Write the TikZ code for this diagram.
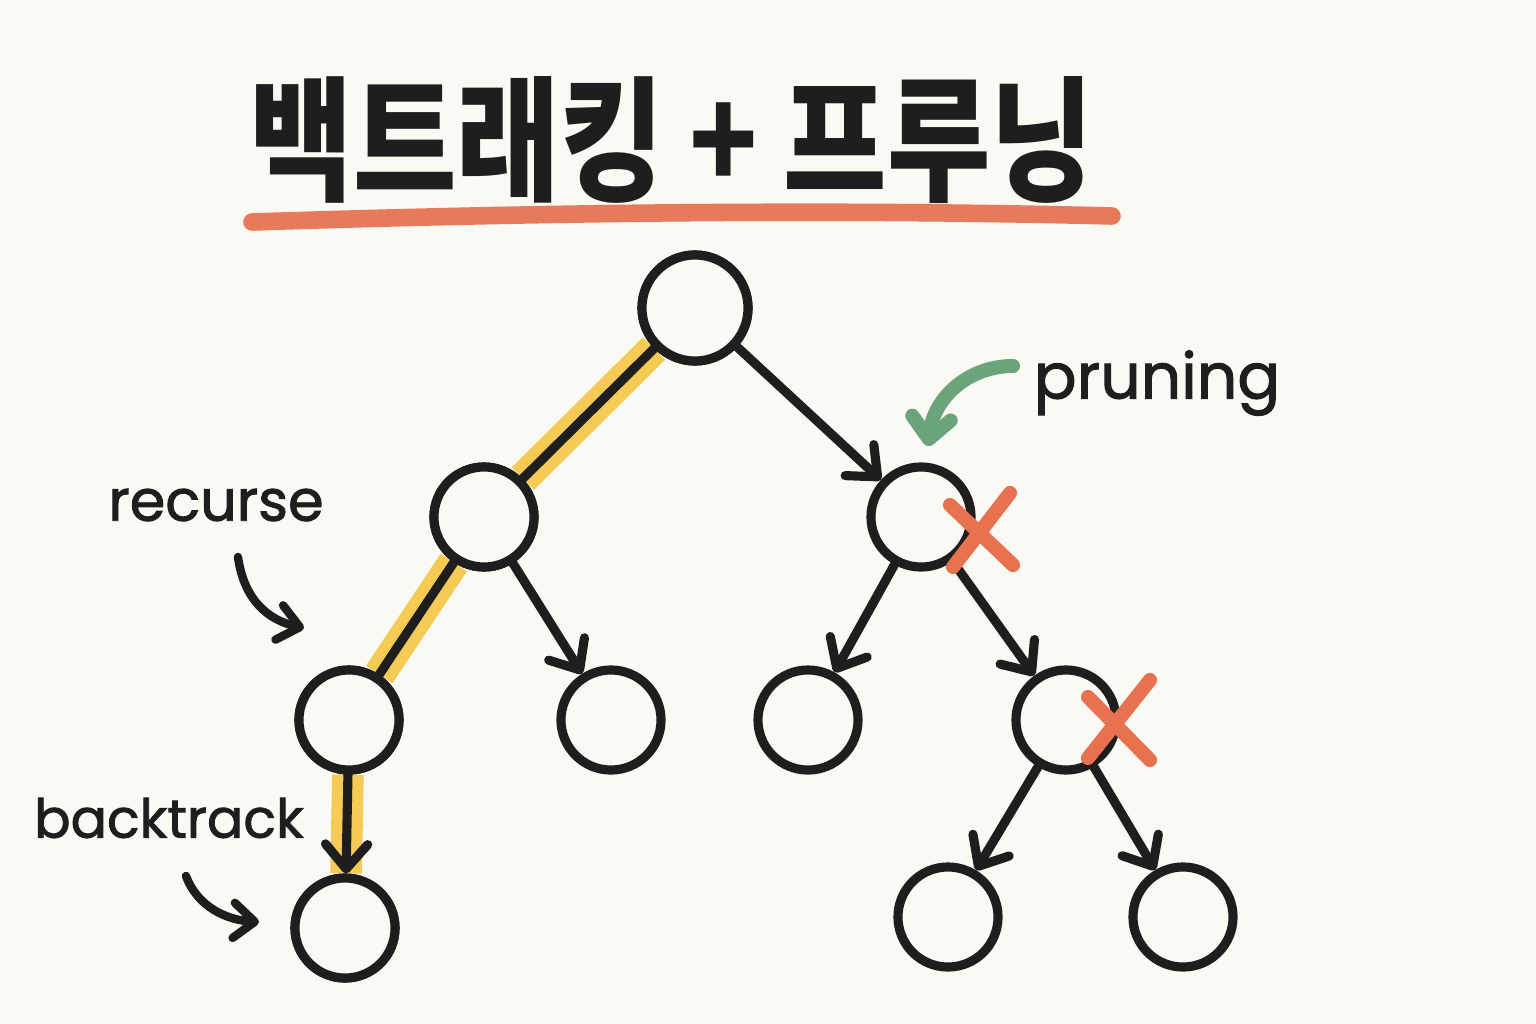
\documentclass[tikz,border=0pt]{standalone}
\usepackage{fontspec}
\usetikzlibrary{arrows.meta}
\newfontfamily\kr{Noto Sans CJK KR}
\newfontfamily\hand{Poppins}[FakeBold=1.6]
\definecolor{bg}{HTML}{FBF9F4}
\definecolor{ink}{HTML}{1E1E1E}
\definecolor{hl}{HTML}{F6CB55}
\definecolor{redx}{HTML}{E8714F}
\definecolor{uline}{HTML}{E87A5C}
\definecolor{grn}{HTML}{6BA37B}
\tikzset{
  tnode/.style={circle,draw=ink,line width=2.6pt,minimum size=1.0cm,inner sep=0pt},
  edge/.style={draw=ink,line width=2.6pt,line cap=round},
  arr/.style={edge,-{Straight Barb[length=7pt,width=12pt,line cap=round,line join=round]}},
  hilite/.style={draw=hl,line width=9pt,line cap=butt},
  cross/.style={draw=redx,line width=4pt,line cap=round},
  lbl/.style={font=\hand\fontsize{16.3}{20}\selectfont,text=ink,inner sep=0pt},
  smallarr/.style={edge,line width=2.4pt,-{Straight Barb[length=6pt,width=10pt,line cap=round,line join=round]}},
}
\begin{document}
\begin{tikzpicture}[x=0.01cm,y=-0.01cm]
\fill[bg] (0,0) rectangle (1536,1024);
\useasboundingbox (0,0) rectangle (1536,1024);

% title
\node[font=\kr\bfseries\fontsize{32}{36}\selectfont,text=ink,inner sep=0pt,yscale=1.2] (title) at (672,140) {백트래킹 + 프루닝};
\draw[draw=uline,line width=5pt,line cap=round] (252,222) .. controls (500,214) and (800,208) .. (1112,216);

% nodes
\node[tnode,minimum size=1.06cm] (r) at (695,308) {};
\node[tnode] (a) at (484,517) {};
\node[tnode] (b) at (921,517) {};
\node[tnode] (a1) at (349,720) {};
\node[tnode] (a2) at (611,720) {};
\node[tnode] (b1) at (808,720) {};
\node[tnode] (b2) at (1066,720) {};
\node[tnode] (a11) at (345,928) {};
\node[tnode] (b21) at (948,917) {};
\node[tnode] (b22) at (1183,917) {};

% highlight
\path[hilite] (r) -- (a);
\path[hilite] (a) -- (a1);
\path[hilite] (a1) -- (a11);
\node[tnode,fill=bg,minimum size=1.06cm] at (r) {};
\node[tnode,fill=bg] at (a) {};
\node[tnode,fill=bg] at (a1) {};
\node[tnode,fill=bg] at (a11) {};

% edges
\draw[edge] (r) -- (a);
\draw[edge] (a) -- (a1);
\draw[arr] (a1) -- (a11);
\draw[arr] (a) -- (a2);
\draw[arr] (r) -- (b);
\draw[arr] (b) -- (b1);
\draw[arr] (b) -- (b2);
\draw[arr] (b2) -- (b21);
\draw[arr] (b2) -- (b22);

% crosses
\coordinate (x1) at (981,529);
\coordinate (x2) at (1119,720);
\draw[cross] ([shift={(29,-36)}]x1) -- ([shift={(-28,38)}]x1);
\draw[cross] ([shift={(-31,-24)}]x1) -- ([shift={(32,36)}]x1);
\draw[cross] ([shift={(31,-40)}]x2) -- ([shift={(-31,38)}]x2);
\draw[cross] ([shift={(-31,-23)}]x2) -- ([shift={(31,40)}]x2);

% labels
\node[lbl] (lrec) at (216,505) {recurse};
\node[lbl,font=\hand\fontsize{15.3}{19}\selectfont] (lback) at (169,818) {backtrack};
\node[lbl,font=\hand\fontsize{18}{22}\selectfont] (lprun) at (1157,383) {pruning};

\coordinate (recS) at (238,557);
\coordinate (recE) at (304,628);
\coordinate (backS) at (186,876);
\coordinate (backE) at (259,922);
\coordinate (prS) at (1013,366);
\coordinate (prE) at (928,446);
\draw[smallarr] (recS) .. controls (244,600) and (268,620) .. (recE);
\draw[smallarr] (backS) .. controls (198,908) and (228,920) .. (backE);
\draw[smallarr,draw=grn,line width=4pt,-{Straight Barb[length=6pt,width=11pt,line cap=round,line join=round]}] (prS) .. controls (968,366) and (934,398) .. (prE);
\end{tikzpicture}
\end{document}
